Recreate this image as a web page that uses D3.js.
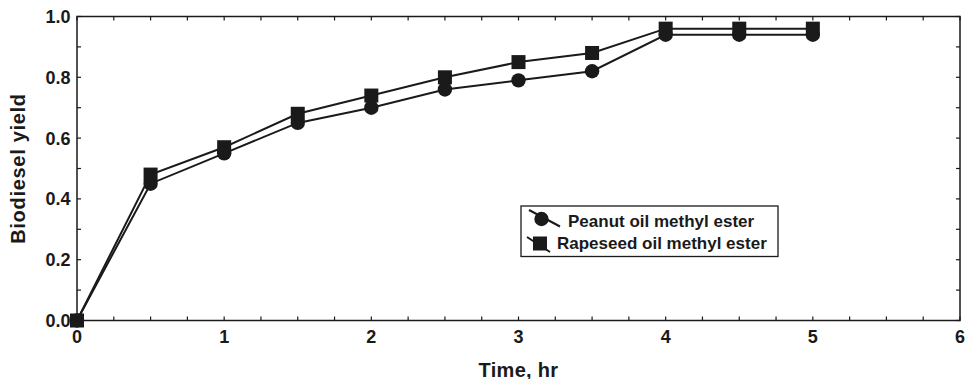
<!DOCTYPE html>
<html><head><meta charset="utf-8">
<script src="https://cdn.jsdelivr.net/npm/d3@7"></script>
<style>body{margin:0;background:#fff}svg{display:block}text{font-family:"Liberation Sans",Arial,Helvetica,sans-serif;font-weight:bold;fill:#1a1a1a}</style>
</head><body><svg id="c" width="968" height="379"></svg>
<script>
const time = [0, 0.5, 1, 1.5, 2, 2.5, 3, 3.5, 4, 4.5, 5];
const peanut = [0, 0.45, 0.55, 0.65, 0.70, 0.76, 0.79, 0.82, 0.94, 0.94, 0.94];
const rapeseed = [0, 0.48, 0.57, 0.68, 0.74, 0.80, 0.85, 0.88, 0.96, 0.96, 0.96];
const seriesNames = ["Peanut oil methyl ester", "Rapeseed oil methyl ester"];
const xTickLabels = [0, 1, 2, 3, 4, 5, 6];
const yTickLabels = [0, 0.2, 0.4, 0.6, 0.8, 1.0];

const svg = d3.select("#c");
const L = 77, R = 960, T = 16.5, B = 320.5;
const x = d3.scaleLinear().domain([0, 6]).range([L, R]);
const y = d3.scaleLinear().domain([0, 1]).range([B, T]);
const col = "#1a1a1a";

const xMinor = d3.range(0, 6.001, 0.25);
const yMinor = d3.range(0, 1.001, 0.1);
const tl = 4;
const g = svg.append("g");
xMinor.forEach(v => {
  g.append("line").attr("x1", x(v)).attr("x2", x(v)).attr("y1", B).attr("y2", B - tl).attr("stroke", col).attr("stroke-width", 1.2);
  g.append("line").attr("x1", x(v)).attr("x2", x(v)).attr("y1", T).attr("y2", T + tl).attr("stroke", col).attr("stroke-width", 1.2);
});
yMinor.forEach(v => {
  g.append("line").attr("x1", L).attr("x2", L + tl).attr("y1", y(v)).attr("y2", y(v)).attr("stroke", col).attr("stroke-width", 1.2);
  g.append("line").attr("x1", R).attr("x2", R - tl).attr("y1", y(v)).attr("y2", y(v)).attr("stroke", col).attr("stroke-width", 1.2);
});
g.append("rect").attr("x", L).attr("y", T).attr("width", R - L).attr("height", B - T)
  .attr("fill", "none").attr("stroke", col).attr("stroke-width", 1.5);

xTickLabels.forEach(v => {
  svg.append("text").attr("x", x(v)).attr("y", 342.7).attr("text-anchor", "middle")
    .attr("font-size", 18).text(d3.format("d")(v));
});
yTickLabels.forEach(v => {
  svg.append("text").attr("x", 70.5).attr("y", y(v) + 6.5).attr("text-anchor", "end")
    .attr("font-size", 18).text(d3.format(".1f")(v));
});

svg.append("text").attr("x", (L + R) / 2).attr("y", 376.5).attr("text-anchor", "middle")
  .attr("font-size", 20).attr("letter-spacing", 0.3).text("Time, hr");
svg.append("text").attr("transform", `translate(24.5,${(T + B) / 2}) rotate(-90)`)
  .attr("text-anchor", "middle").attr("font-size", 20).attr("letter-spacing", 0.7).text("Biodiesel yield");

const line = d3.line().x((d, i) => x(time[i])).y(d => y(d));
[peanut, rapeseed].forEach(s => {
  svg.append("path").attr("d", line(s)).attr("fill", "none").attr("stroke", col).attr("stroke-width", 2);
});
const r = 7.2, hs = 7;
svg.selectAll(".c").data(peanut).join("circle")
  .attr("cx", (d, i) => x(time[i])).attr("cy", d => y(d)).attr("r", r).attr("fill", col);
svg.selectAll(".s").data(rapeseed).join("rect")
  .attr("x", (d, i) => x(time[i]) - hs).attr("y", d => y(d) - hs)
  .attr("width", 2 * hs).attr("height", 2 * hs).attr("fill", col);

const lg = svg.append("g");
lg.append("rect").attr("x", 521).attr("y", 206).attr("width", 257).attr("height", 50.5)
  .attr("fill", "#fff").attr("stroke", col).attr("stroke-width", 1.3);
lg.append("line").attr("x1", 529).attr("y1", 210).attr("x2", 560).attr("y2", 226.5).attr("stroke", col).attr("stroke-width", 2);
lg.append("circle").attr("cx", 541.5).attr("cy", 219).attr("r", r).attr("fill", col);
lg.append("line").attr("x1", 527).attr("y1", 237).attr("x2", 550).attr("y2", 252).attr("stroke", col).attr("stroke-width", 2);
lg.append("rect").attr("x", 533).attr("y", 236.5).attr("width", 14).attr("height", 14).attr("fill", col);
lg.append("text").attr("x", 568).attr("y", 226.7).attr("font-size", 17).text(seriesNames[0]);
lg.append("text").attr("x", 557).attr("y", 249.3).attr("font-size", 17).text(seriesNames[1]);
</script></body></html>
